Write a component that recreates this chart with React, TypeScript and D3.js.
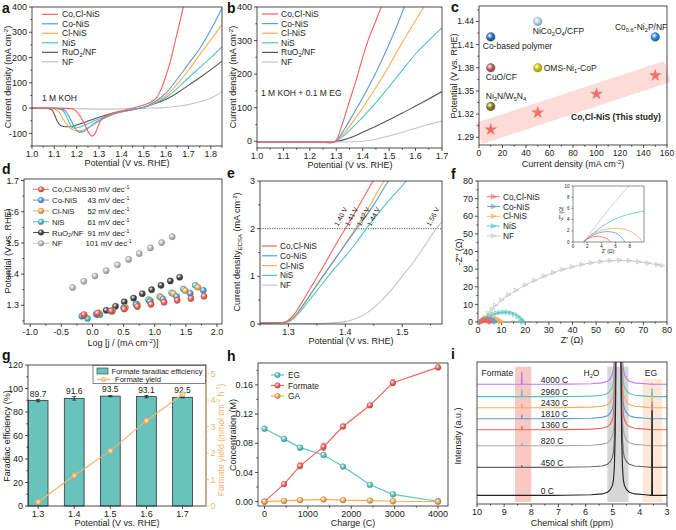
import React from 'react';
import * as d3 from 'd3';

type Pt = [number, number];
const FONT = "'Liberation Sans', Arial, Helvetica, sans-serif";
const RED = '#f4615a', BLUE = '#5b9bd5', ORANGE = '#f9ad55', TEAL = '#4fc4c2', DARK = '#555555', LIGHT = '#c4c4c4';

// ---------------- panel a (1 M KOH) ----------------
const aNames = ['Co,Cl-NiS', 'Co-NiS', 'Cl-NiS', 'NiS', 'RuO_{2}/NF', 'NF'];
const aCoClNiS: Pt[] = [[1.0,0],[1.1,0],[1.16,-1],[1.18,-4],[1.2,-14],[1.22,-38],[1.24,-72],[1.255,-98],[1.268,-111],[1.28,-104],[1.29,-85],[1.3,-62],[1.313,-41],[1.33,-30],[1.36,-20],[1.4,-11],[1.45,0],[1.5,12],[1.54,28],[1.56,45],[1.58,80],[1.6,130],[1.62,188],[1.64,262],[1.66,335],[1.677,400],[1.69,440]];
const aCoNiS: Pt[] = [[1.0,0],[1.1,-1],[1.13,-3],[1.15,-12],[1.17,-40],[1.19,-75],[1.21,-95],[1.23,-93],[1.25,-80],[1.28,-60],[1.32,-40],[1.36,-24],[1.4,-14],[1.45,-6],[1.5,3],[1.55,25],[1.6,60],[1.65,115],[1.7,175],[1.75,235],[1.8,310],[1.85,395]];
const aClNiS: Pt[] = [[1.0,0],[1.08,-1],[1.1,-4],[1.12,-15],[1.14,-45],[1.16,-70],[1.18,-85],[1.2,-90],[1.22,-89],[1.25,-78],[1.28,-62],[1.32,-42],[1.36,-26],[1.4,-15],[1.45,-6],[1.5,2],[1.55,22],[1.6,50],[1.65,95],[1.7,150],[1.75,210],[1.8,270],[1.85,330]];
const aNiS: Pt[] = [[1.0,0],[1.1,-1],[1.13,-5],[1.15,-25],[1.165,-55],[1.178,-76],[1.19,-80],[1.21,-76],[1.25,-62],[1.29,-46],[1.33,-32],[1.37,-21],[1.42,-10],[1.47,-3],[1.5,3],[1.55,20],[1.6,42],[1.65,78],[1.7,120],[1.75,160],[1.8,200],[1.85,242]];
const aRuO2: Pt[] = [[1.0,0],[1.07,-1],[1.09,-8],[1.1,-25],[1.115,-55],[1.13,-70],[1.15,-74],[1.17,-74],[1.2,-67],[1.24,-55],[1.28,-42],[1.32,-30],[1.36,-21],[1.4,-14],[1.45,-6],[1.5,3],[1.55,18],[1.6,35],[1.65,60],[1.7,90],[1.75,120],[1.8,152],[1.85,186]];
const aNF: Pt[] = [[1.0,-1],[1.2,-2],[1.3,-4],[1.4,-3],[1.5,-1],[1.55,0],[1.6,3],[1.65,7],[1.7,14],[1.75,25],[1.8,40],[1.85,64]];
const aXT = [1.0,1.1,1.2,1.3,1.4,1.5,1.6,1.7,1.8];
const aXM = [1.05,1.15,1.25,1.35,1.45,1.55,1.65,1.75,1.85];
const aYT = [-100,0,100,200,300,400];
const aYM = [-150,-50,50,150,250,350];

// ---------------- panel b (KOH + EG) ----------------
const bCoClNiS: Pt[] = [[1.0,-3],[1.25,-3],[1.28,-5],[1.29,-3],[1.3,2],[1.32,45],[1.35,120],[1.38,195],[1.4,250],[1.42,300],[1.45,360],[1.475,410]];
const bCoNiS: Pt[] = [[1.0,-3],[1.25,-3],[1.29,-2],[1.3,2],[1.33,35],[1.36,75],[1.4,130],[1.45,205],[1.5,290],[1.53,345],[1.56,405]];
const bClNiS: Pt[] = [[1.0,-3],[1.25,-3],[1.29,-2],[1.3,2],[1.33,25],[1.36,55],[1.4,100],[1.45,160],[1.5,225],[1.55,295],[1.6,360],[1.64,410]];
const bNiS: Pt[] = [[1.0,-3],[1.25,-3],[1.29,-2],[1.3,1],[1.33,18],[1.36,40],[1.4,72],[1.45,115],[1.5,163],[1.55,212],[1.6,260],[1.65,300],[1.7,338]];
const bRuO2: Pt[] = [[1.0,-2],[1.28,-2],[1.3,0],[1.33,5],[1.36,13],[1.4,27],[1.45,45],[1.5,64],[1.55,84],[1.6,105],[1.65,126],[1.7,148]];
const bNF: Pt[] = [[1.0,-2],[1.35,-2],[1.4,0],[1.43,3],[1.46,8],[1.5,16],[1.55,27],[1.6,39],[1.65,50],[1.7,60]];
const bXT = [1.0,1.1,1.2,1.3,1.4,1.5,1.6,1.7];
const bXM = [1.05,1.15,1.25,1.35,1.45,1.55,1.65];
const bYT = [0,100,200,300,400];
const bYM = [50,150,250,350];

// ---------------- panel c (comparison) ----------------
const cRefNames = ['Co-based polymer', 'NiCo_{2}O_{4}/CFP', 'Co_{0.6}-Ni_{2}P/NF', 'CuO/CF', 'OMS-Ni_{1}-CoP', 'Ni_{3}N/W_{5}N_{4}'];
const cRefJ = [10, 50, 150, 10, 50, 10];
const cRefV = [1.42, 1.44, 1.42, 1.38, 1.38, 1.33];
const cRefColors = ['#2a6db5', '#a9d6ea', '#1f86e0', '#b5585a', '#c9c200', '#7d7d1e'];
const cStarJ = [10, 50, 100, 150];
const cStarV = [1.30, 1.322, 1.346, 1.37];
const cXT = [0,20,40,60,80,100,120,140,160];
const cXM = [10,30,50,70,90,110,130,150];
const cYT = [1.29,1.32,1.35,1.38,1.41,1.44];
const cYM = [1.305,1.335,1.365,1.395,1.425,1.455];

// ---------------- panel d (Tafel) ----------------
const dNames = ['Co,Cl-NiS', 'Co-NiS', 'Cl-NiS', 'NiS', 'RuO_{2}/NF', 'NF'];
const dSlopes = ['30', '43', '52', '61', '91', '101'];
const dCoClNiS: Pt[] = [[-0.14,1.27],[0.08,1.275],[0.3,1.282],[0.51,1.288],[0.72,1.296],[0.94,1.303],[1.15,1.31],[1.36,1.316],[1.58,1.322],[1.79,1.329]];
const dCoNiS: Pt[] = [[-0.17,1.265],[0.06,1.272],[0.29,1.282],[0.5,1.292],[0.7,1.302],[0.92,1.312],[1.13,1.32],[1.35,1.328],[1.57,1.338],[1.78,1.348]];
const dClNiS: Pt[] = [[-0.13,1.268],[0.1,1.276],[0.32,1.283],[0.53,1.293],[0.72,1.303],[0.93,1.315],[1.1,1.325],[1.3,1.337],[1.49,1.347],[1.69,1.358]];
const dNiS: Pt[] = [[-0.08,1.258],[0.12,1.27],[0.32,1.281],[0.51,1.293],[0.7,1.305],[0.9,1.318],[1.08,1.328],[1.27,1.34],[1.46,1.352],[1.65,1.364]];
const dRuO2: Pt[] = [[0.07,1.271],[0.22,1.284],[0.37,1.297],[0.51,1.311],[0.66,1.323],[0.8,1.337],[0.95,1.35],[1.1,1.364],[1.25,1.378],[1.4,1.39]];
const dNF: Pt[] = [[-0.32,1.357],[-0.14,1.377],[0.04,1.394],[0.22,1.411],[0.4,1.43],[0.58,1.447],[0.75,1.466],[0.93,1.484],[1.11,1.501],[1.28,1.52]];
const dXT = [-1,-0.5,0,0.5,1,1.5,2];
const dXM = [-0.75,-0.25,0.25,0.75,1.25,1.75];
const dYT = [1.3,1.4,1.5,1.6,1.7];
const dYM = [1.25,1.35,1.45,1.55,1.65];

// ---------------- panel e (ECSA-normalised) ----------------
const eNames = ['Co,Cl-NiS', 'Co-NiS', 'Cl-NiS', 'NiS', 'NF'];
const eCoClNiS: Pt[] = [[1.25,0.02],[1.29,0.03],[1.3,0.08],[1.31,0.2],[1.32,0.38],[1.34,0.78],[1.36,1.18],[1.38,1.6],[1.4,2.0],[1.42,2.4],[1.449,3.0],[1.46,3.2]];
const eCoNiS: Pt[] = [[1.25,0.02],[1.29,0.03],[1.3,0.06],[1.31,0.15],[1.32,0.3],[1.34,0.65],[1.36,1.0],[1.38,1.33],[1.4,1.67],[1.42,2.0],[1.45,2.5],[1.476,3.0],[1.49,3.2]];
const eClNiS: Pt[] = [[1.25,0.02],[1.29,0.03],[1.3,0.05],[1.31,0.12],[1.32,0.28],[1.34,0.63],[1.36,0.98],[1.38,1.33],[1.4,1.68],[1.418,2.0],[1.44,2.42],[1.468,3.0],[1.48,3.2]];
const eNiS: Pt[] = [[1.25,0.02],[1.29,0.03],[1.3,0.05],[1.32,0.25],[1.34,0.55],[1.36,0.85],[1.38,1.15],[1.4,1.42],[1.42,1.72],[1.437,2.0],[1.47,2.5],[1.507,3.0],[1.52,3.2]];
const eNF: Pt[] = [[1.25,0.0],[1.35,0.01],[1.4,0.05],[1.42,0.12],[1.44,0.25],[1.46,0.45],[1.48,0.7],[1.5,1.0],[1.52,1.3],[1.54,1.65],[1.56,2.0],[1.57,2.15]];
const eOnsetV = [1.40, 1.41, 1.42, 1.44, 1.56];
const eOnsetLbl = ['1.40 V', '1.41 V', '1.42 V', '1.44 V', '1.56 V'];
const eXT = [1.3,1.4,1.5];
const eXM = [1.25,1.35,1.45,1.55];
const eYT = [0,1,2,3];
const eYM = [0.5,1.5,2.5];

// ---------------- panel f (Nyquist) ----------------
const fNames = ['Co,Cl-NiS', 'Co-NiS', 'Cl-NiS', 'NiS', 'NF'];
const fCoClNiS: Pt[] = [[1.5,0],[2,0.5],[2.5,0.8],[3,0.95],[3.5,1.0],[4,0.95],[4.5,0.75],[5,0.4],[5.3,0]];
const fCoNiS: Pt[] = [[1.5,0],[2.2,0.8],[3,1.35],[4,1.75],[5,1.85],[6,1.6],[6.7,1.0],[7.1,0.4],[7.3,0]];
const fClNiS: Pt[] = [[1.5,0],[2.3,1.0],[3.2,1.7],[4.3,2.2],[5.5,2.4],[6.5,2.4],[7.5,2.2],[8.5,1.6],[9.2,0.9],[9.6,0.3],[9.7,0]];
const fNiS: Pt[] = [[1.5,0],[2.5,1.2],[3.5,2.2],[5,3.5],[6.5,4.4],[8,5.0],[9.5,5.4],[11,5.6],[12.5,5.5],[14,5.1],[15.5,4.4],[17,3.2],[18.2,1.8],[18.8,0.8],[19,0]];
const fNF: Pt[] = [[1.5,0],[3,2.5],[4.5,5],[6,7.3],[7.5,9.5],[10,12.5],[13,15.5],[16.3,18],[20,21],[24,23.6],[28,26],[32,28],[36,29.8],[40,31.3],[44,32.6],[48,33.6],[52,34.3],[56,34.8],[60,35],[64,34.8],[68,34.2],[72,33.4],[76,32.5],[78,32]];
const fXT = [0,10,20,30,40,50,60,70,80];
const fXM = [5,15,25,35,45,55,65,75];
const fInsetT = [0,2,4,6,8];
const fInsetYT = [0,2,4,6,8,10];

// ---------------- panel g (FE + yield) ----------------
const gPot = [1.3, 1.4, 1.5, 1.6, 1.7];
const gFE = [89.7, 91.6, 93.5, 93.1, 92.5];
const gFEerr = [1.0, 1.5, 0.5, 1.0, 0.4];
const gYield = [0.15, 1.15, 2.08, 3.22, 4.22];
const gYieldErr = [0.08, 0.1, 0.05, 0.12, 0.07];
const gYT = [0,20,40,60,80,100,120];
const gYM = [10,30,50,70,90,110];
const gRT = [0,1,2,3,4,5];
const gRM = [0.5,1.5,2.5,3.5,4.5];

// ---------------- panel h (concentration vs charge) ----------------
const hCharge = [0, 450, 820, 1360, 1810, 2430, 2960, 4000];
const hEG = [0.1, 0.086, 0.074, 0.064, 0.048, 0.023, 0.010, 0.0005];
const hEGerr = [0.001, 0.001, 0.003, 0.002, 0.001, 0.001, 0.001, 0.001];
const hFormate = [0, 0.024, 0.049, 0.075, 0.103, 0.132, 0.163, 0.184];
const hFormateErr = [0.001, 0.002, 0.004, 0.005, 0.003, 0.002, 0.004, 0.003];
const hGA = [0, 0.001, 0.002, 0.003, 0.002, 0.0015, 0.0005, 0];
const hXT = [0,1000,2000,3000,4000];
const hXM = [500,1500,2500,3500];
const hYT = [0,0.04,0.08,0.12,0.16];
const hYM = [0.02,0.06,0.1,0.14,0.18];

// ---------------- panel i (NMR) ----------------
const iLabels = ['0 C', '450 C', '820 C', '1360 C', '1810 C', '2430 C', '2960 C', '4000 C'];
const iColors = ['#222222', '#666666', '#aaaaaa', RED, BLUE, ORANGE, '#5cc0bf', '#b77cf0'];
const iBase = [6.1, 25.8, 41, 52.3, 60, 67.8, 75.6, 84.3];
const iFormateH = [0, 1.5, 1.5, 2.5, 3, 3, 5, 9];
const iEGH = [60, 40, 28, 18, 12, 9, 6, 0.5];
const iWaterOff = [0, 0.06, 0.08, 0.09, 0.1, 0.12, 0.15, 0.18, 0.22, 0.3, 0.4, 0.6, 1, 2];
const iWaterH = [600, 250, 140, 100, 70, 40, 20, 11, 7, 4, 2.2, 1, 0.4, 0.1];
const iXT = [10,9,8,7,6,5,4,3];
const iXM = [9.5,8.5,7.5,6.5,5.5,4.5,3.5];

// ---------------- helpers ----------------
function Rich({ s, fs }: { s: string; fs: number }) {
  const out: any[] = [];
  let cur = 0, k = 0, last = 0;
  const re = /(\^|_)\{([^}]*)\}/g;
  let m: any;
  const push = (t: string, target: number, size: number) => {
    out.push(<tspan key={k++} dy={target - cur} fontSize={size}>{t}</tspan>);
    cur = target;
  };
  while ((m = re.exec(s))) {
    if (m.index > last) push(s.slice(last, m.index), 0, fs);
    push(m[2], m[1] === '^' ? -fs * 0.38 : fs * 0.22, fs * 0.68);
    last = re.lastIndex;
  }
  if (last < s.length) push(s.slice(last), 0, fs);
  return <>{out}</>;
}

function Axes(p: any) {
  const { sx, sy, xt, yt, xm = [], ym = [], xf, yf } = p;
  const fs = p.fs ?? 9, tl = p.tl ?? 3, sw = p.sw ?? 0.8;
  const [x0, x1] = sx.range(); const [y0, y1] = sy.range();
  const L = Math.min(x0, x1), R = Math.max(x0, x1), B = Math.max(y0, y1), T = Math.min(y0, y1);
  return (
    <g fontSize={fs} fill="#222">
      <rect x={L} y={T} width={R - L} height={B - T} fill="none" stroke="#222" strokeWidth={sw} />
      {xt.map((v: number, i: number) => (
        <g key={'x' + i}>
          <line x1={sx(v)} x2={sx(v)} y1={B} y2={B + tl} stroke="#222" strokeWidth={sw} />
          <text x={sx(v)} y={B + tl + fs * 0.9} textAnchor="middle">{xf(v)}</text>
        </g>
      ))}
      {xm.map((v: number, i: number) => <line key={'xm' + i} x1={sx(v)} x2={sx(v)} y1={B} y2={B + tl * 0.55} stroke="#222" strokeWidth={sw} />)}
      {!p.noY && yt.map((v: number, i: number) => (
        <g key={'y' + i}>
          <line x1={L} x2={L - tl} y1={sy(v)} y2={sy(v)} stroke="#222" strokeWidth={sw} />
          <text x={L - tl - 2} y={sy(v)} dy="0.35em" textAnchor="end">{yf(v)}</text>
        </g>
      ))}
      {!p.noY && ym.map((v: number, i: number) => <line key={'ym' + i} x1={L} x2={L - tl * 0.55} y1={sy(v)} y2={sy(v)} stroke="#222" strokeWidth={sw} />)}
    </g>
  );
}

const XTitle = ({ x, y, s, fs = 9 }: any) => <text x={x} y={y} textAnchor="middle" fontSize={fs} fill="#222"><Rich s={s} fs={fs} /></text>;
const YTitle = ({ x, y, s, fs = 9, fill = '#222' }: any) => (
  <text transform={`translate(${x},${y}) rotate(-90)`} textAnchor="middle" fontSize={fs} fill={fill}><Rich s={s} fs={fs} /></text>
);
const Letter = ({ x, y, s }: any) => <text x={x} y={y} fontSize={14} fontWeight="bold" fill="#111">{s}</text>;

const gradColors: Record<string, string> = {
  red: RED, blue: BLUE, orange: ORANGE, teal: TEAL, dark: '#444444', light: '#bdbdbd',
  c0: cRefColors[0], c1: cRefColors[1], c2: cRefColors[2], c3: cRefColors[3], c4: cRefColors[4], c5: cRefColors[5],
  hteal: '#5cc6c4',
};

const Sphere = ({ x, y, r, g }: any) => (
  <circle cx={x} cy={y} r={r} fill={`url(#g-${g})`} stroke={(d3.color(gradColors[g]) as any).darker(1).formatHex()} strokeWidth={0.4} />
);

const tri = 'M-2.2,-2.3L2.6,0L-2.2,2.3Z';

export default function App() {
  // ---- scales ----
  const aX = d3.scaleLinear().domain([1.0, 1.85]).range([32, 222]);
  const aY = d3.scaleLinear().domain([-150, 400]).range([146, 7]);
  const bX = d3.scaleLinear().domain([1.0, 1.7]).range([257, 442]);
  const bY = d3.scaleLinear().domain([-20, 400]).range([148, 7]);
  const cX = d3.scaleLinear().domain([0, 160]).range([479, 667]);
  const cY = d3.scaleLinear().domain([1.28, 1.46]).range([145, 6]);
  const dX = d3.scaleLinear().domain([-1.1, 2.08]).range([24, 222]);
  const dY = d3.scaleLinear().domain([1.24, 1.705]).range([324, 179]);
  const eX = d3.scaleLinear().domain([1.25, 1.57]).range([260, 442]);
  const eY = d3.scaleLinear().domain([0, 3]).range([324, 181]);
  const fX = d3.scaleLinear().domain([0, 80]).range([478, 667]);
  const fY = d3.scaleLinear().domain([0, 80]).range([322, 181]);
  const fiX = d3.scaleLinear().domain([0, 10]).range([573, 644]);
  const fiY = d3.scaleLinear().domain([0, 10]).range([242, 186]);
  const gX = d3.scaleLinear().domain([1.272, 1.765]).range([28, 206]);
  const gY = d3.scaleLinear().domain([0, 120]).range([506, 365]);
  const gR = d3.scaleLinear().domain([0, 5.32]).range([506, 365]);
  const hX = d3.scaleLinear().domain([-150, 4230]).range([258, 448]);
  const hY = d3.scaleLinear().domain([-0.006, 0.19]).range([506, 363]);
  const iX = d3.scaleLinear().domain([10, 3]).range([477, 667]);
  const iY = d3.scaleLinear().domain([0, 100]).range([504, 362]);

  const ln = (sx: any, sy: any, curve: any = d3.curveMonotoneX) =>
    d3.line<Pt>().x(d => sx(d[0])).y(d => sy(d[1])).curve(curve);

  const f1 = (v: number) => v.toFixed(1);
  const f0 = (v: number) => String(v);
  const f2 = (v: number) => v.toFixed(2);

  const aSeries = [aCoClNiS, aCoNiS, aClNiS, aNiS, aRuO2, aNF];
  const bSeries = [bCoClNiS, bCoNiS, bClNiS, bNiS, bRuO2, bNF];
  const six = [RED, BLUE, ORANGE, TEAL, DARK, LIGHT];
  const dSeries = [dCoClNiS, dCoNiS, dClNiS, dNiS, dRuO2, dNF];
  const dGrad = ['red', 'blue', 'orange', 'teal', 'dark', 'light'];
  const eSeries = [eCoClNiS, eCoNiS, eClNiS, eNiS, eNF];
  const five = [RED, BLUE, ORANGE, TEAL, LIGHT];
  const fSeries = [fCoClNiS, fCoNiS, fClNiS, fNiS, fNF];

  // panel c band along the stars
  const p0 = [cX(cStarJ[0]), cY(cStarV[0])];
  const p1 = [cX(cStarJ[cStarJ.length - 1]), cY(cStarV[cStarV.length - 1])];
  const ang = Math.atan2(p1[1] - p0[1], p1[0] - p0[0]);
  const len = Math.hypot(p1[0] - p0[0], p1[1] - p0[1]);
  const starPath = d3.symbol().type(d3.symbolStar).size(42)() as string;

  // NMR traces
  const nmr = iBase.map((b, t) => {
    const pts: Pt[] = [[10, b], [8.6, b], [8.365, b], [8.35, b + iFormateH[t]], [8.335, b], [7.2, b]];
    for (let j = iWaterOff.length - 1; j >= 0; j--) pts.push([4.79 + iWaterOff[j], b + iWaterH[j]]);
    for (let j = 1; j < iWaterOff.length; j++) if (iWaterOff[j] <= 1) pts.push([4.79 - iWaterOff[j], b + iWaterH[j]]);
    pts.push([3.6, b], [3.565, b], [3.55, b + iEGH[t]], [3.535, b], [3, b]);
    return pts;
  });

  const gBarW = gX(1.3 + 0.0274) - gX(1.3 - 0.0274);
  const gYieldPts: Pt[] = gPot.map((v, i) => [v, gYield[i]]);
  const hEGPts: Pt[] = hCharge.map((c, i) => [c, hEG[i]]);
  const hFPts: Pt[] = hCharge.map((c, i) => [c, hFormate[i]]);
  const hGAPts: Pt[] = hCharge.map((c, i) => [c, hGA[i]]);
  const eLblDx = [-7, -2, 4, 3, -6];

  return (
    <svg width={676} height={530} style={{ position: 'absolute', left: 0, top: 0, fontFamily: FONT }}>
      <defs>
        {Object.entries(gradColors).map(([k, c]) => (
          <radialGradient key={k} id={'g-' + k} cx="38%" cy="35%" r="70%">
            <stop offset="0%" stopColor="#ffffff" />
            <stop offset="50%" stopColor={c} />
            <stop offset="100%" stopColor={(d3.color(c) as any).darker(0.9).formatHex()} />
          </radialGradient>
        ))}
        <clipPath id="clipA"><rect x={32} y={7} width={190} height={139} /></clipPath>
        <clipPath id="clipB"><rect x={257} y={7} width={185} height={141} /></clipPath>
        <clipPath id="clipE"><rect x={260} y={181} width={182} height={143} /></clipPath>
        <clipPath id="clipFI"><rect x={573} y={186} width={71} height={56} /></clipPath>
        <clipPath id="clipI"><rect x={477} y={362} width={190} height={142} /></clipPath>
      </defs>
      <rect x={0} y={0} width={676} height={530} fill="#fff" />

      {/* ================= a ================= */}
      <g clipPath="url(#clipA)">
        {[5, 4, 3, 2, 1, 0].map(i => (
          <path key={i} d={ln(aX, aY)(aSeries[i]) as string} fill="none" stroke={six[i]} strokeWidth={1.1} />
        ))}
      </g>
      <Axes sx={aX} sy={aY} xt={aXT} xm={aXM} yt={aYT} ym={aYM} xf={f1} yf={f0} />
      {aNames.map((n, i) => (
        <g key={i}>
          <line x1={42} x2={58} y1={14.3 + i * 9.5} y2={14.3 + i * 9.5} stroke={six[i]} strokeWidth={1.2} />
          <text x={62} y={14.3 + i * 9.5 + 3} fontSize={8.5} fill="#222"><Rich s={n} fs={8.5} /></text>
        </g>
      ))}
      <text x={42} y={101} fontSize={8.5} fill="#222">1 M KOH</text>
      <XTitle x={127} y={166} s="Potential (V vs. RHE)" />
      <YTitle x={11} y={77} s="Current density (mA cm^{-2})" />
      <Letter x={2} y={13} s="a" />

      {/* ================= b ================= */}
      <g clipPath="url(#clipB)">
        {[5, 4, 3, 2, 1, 0].map(i => (
          <path key={i} d={ln(bX, bY)(bSeries[i]) as string} fill="none" stroke={six[i]} strokeWidth={1.1} />
        ))}
      </g>
      <Axes sx={bX} sy={bY} xt={bXT} xm={bXM} yt={bYT} ym={bYM} xf={f1} yf={f0} />
      {aNames.map((n, i) => (
        <g key={i}>
          <line x1={262} x2={278} y1={14 + i * 9.6} y2={14 + i * 9.6} stroke={six[i]} strokeWidth={1.2} />
          <text x={281} y={14 + i * 9.6 + 3} fontSize={8.5} fill="#222"><Rich s={n} fs={8.5} /></text>
        </g>
      ))}
      <text x={261} y={96} fontSize={8.5} fill="#222">1 M KOH + 0.1 M EG</text>
      <XTitle x={350} y={168} s="Potential (V vs. RHE)" />
      <YTitle x={236} y={77} s="Current density (mA cm^{-2})" />
      <Letter x={227} y={13} s="b" />

      {/* ================= c ================= */}
      <g transform={`translate(${p0[0]},${p0[1]}) rotate(${(ang * 180) / Math.PI})`}>
        <rect x={-13} y={-11} width={len + 26} height={22} rx={3} fill="#fcd6d0" opacity={0.85} />
      </g>
      <Axes sx={cX} sy={cY} xt={cXT} xm={cXM} yt={cYT} ym={cYM} xf={f0} yf={f2} fs={8.6} />
      {cRefJ.map((j, i) => <Sphere key={i} x={cX(j)} y={cY(cRefV[i])} r={4.3} g={'c' + i} />)}
      {cStarJ.map((j, i) => (
        <path key={i} d={starPath} transform={`translate(${cX(j)},${cY(cStarV[i])})`} fill="#f4706a" stroke="#e55a52" strokeWidth={0.3} />
      ))}
      <g fontSize={8.5} fill="#222">
        <text x={cX(cRefJ[0]) - 8} y={cY(cRefV[0]) + 12}><Rich s={cRefNames[0]} fs={8.5} /></text>
        <text x={cX(cRefJ[1]) - 5} y={cY(cRefV[1]) + 12.5}><Rich s={cRefNames[1]} fs={8.5} /></text>
        <text x={cX(cRefJ[2]) + 12} y={cY(cRefV[2]) - 7} textAnchor="end"><Rich s={cRefNames[2]} fs={8.5} /></text>
        <text x={cX(cRefJ[3]) - 5} y={cY(cRefV[3]) + 12}><Rich s={cRefNames[3]} fs={8.5} /></text>
        <text x={cX(cRefJ[4]) + 6} y={cY(cRefV[4]) + 3}><Rich s={cRefNames[4]} fs={8.5} /></text>
        <text x={cX(cRefJ[5]) - 5} y={cY(cRefV[5]) - 7}><Rich s={cRefNames[5]} fs={8.5} /></text>
        <text x={571} y={120} fontWeight="bold">Co,Cl-NiS (This study)</text>
      </g>
      <XTitle x={573} y={167} s="Current density (mA cm^{-2})" />
      <YTitle x={457} y={76} s="Potential (V vs. RHE)" />
      <Letter x={451} y={12} s="c" />

      {/* ================= d ================= */}
      <Axes sx={dX} sy={dY} xt={dXT} xm={dXM} yt={dYT} ym={dYM} xf={f1} yf={f1} />
      {[5, 4, 3, 2, 1, 0].map(i => (
        <g key={i}>{dSeries[i].map((p, k) => <Sphere key={k} x={dX(p[0])} y={dY(p[1])} r={3.1} g={dGrad[i]} />)}</g>
      ))}
      {dNames.map((n, i) => {
        const yy = 189.3 + i * 10.8;
        return (
          <g key={i}>
            <line x1={33} x2={49} y1={yy} y2={yy} stroke={six[i]} strokeWidth={1} />
            <Sphere x={41} y={yy} r={2.8} g={dGrad[i]} />
            <text x={52} y={yy + 3} fontSize={7.8} fill="#222"><Rich s={n} fs={7.8} /></text>
            <text x={i === 5 ? 85.5 : 87.5} y={yy + 3} fontSize={7.8} fill="#222"><Rich s={dSlopes[i] + ' mV dec^{-1}'} fs={7.8} /></text>
          </g>
        );
      })}
      <XTitle x={123} y={346} s="Log [j / (mA cm^{-2})]" />
      <YTitle x={11} y={251} s="Potential (V vs. RHE)" />
      <Letter x={2} y={174} s="d" />

      {/* ================= e ================= */}
      <line x1={260} x2={442} y1={eY(2)} y2={eY(2)} stroke="#444" strokeWidth={0.9} strokeDasharray="1.2,1.2" />
      <g clipPath="url(#clipE)">
        {[4, 3, 2, 1, 0].map(i => (
          <path key={i} d={ln(eX, eY)(eSeries[i]) as string} fill="none" stroke={five[i]} strokeWidth={1.1} />
        ))}
      </g>
      <Axes sx={eX} sy={eY} xt={eXT} xm={eXM} yt={eYT} ym={eYM} xf={f1} yf={f0} />
      {eOnsetV.map((v, i) => (
        <text key={i} transform={`translate(${eX(v) + eLblDx[i]},${eY(2) - 2}) rotate(-62)`} fontSize={7} fill="#222">{eOnsetLbl[i]}</text>
      ))}
      {eNames.map((n, i) => (
        <g key={i}>
          <line x1={262} x2={277} y1={246 + i * 9.8} y2={246 + i * 9.8} stroke={five[i]} strokeWidth={1.2} />
          <text x={280} y={246 + i * 9.8 + 3} fontSize={8.3} fill="#222">{n}</text>
        </g>
      ))}
      <XTitle x={351} y={344} s="Potential (V vs. RHE)" />
      <YTitle x={240} y={252} s="Current density_{ECSA} (mA cm^{-2})" />
      <Letter x={227} y={178} s="e" />

      {/* ================= f ================= */}
      <Axes sx={fX} sy={fY} xt={fXT} xm={fXM} yt={fXT} ym={fXM} xf={f0} yf={f0} />
      {[4, 3, 2, 1, 0].map(i => (
        <g key={i}>
          <path d={ln(fX, fY, d3.curveCatmullRom)(fSeries[i]) as string} fill="none" stroke={five[i]} strokeWidth={0.9} />
          {fSeries[i].map((p, k) => (
            <path key={k} d={tri} transform={`translate(${fX(p[0])},${fY(p[1])})`} fill={five[i]} fillOpacity={0.35} stroke={five[i]} strokeWidth={0.6} />
          ))}
        </g>
      ))}
      {fNames.map((n, i) => {
        const yy = 196.7 + i * 9.8;
        return (
          <g key={i}>
            <line x1={487} x2={500} y1={yy} y2={yy} stroke={five[i]} strokeWidth={0.9} />
            <path d={tri} transform={`translate(${493.5},${yy})`} fill={five[i]} fillOpacity={0.35} stroke={five[i]} strokeWidth={0.6} />
            <text x={503} y={yy + 3} fontSize={8.3} fill="#222">{n}</text>
          </g>
        );
      })}
      {/* inset */}
      <rect x={573} y={186} width={71} height={56} fill="#fff" />
      <g clipPath="url(#clipFI)">
        {[4, 3, 2, 1, 0].map(i => (
          <path key={i} d={ln(fiX, fiY, d3.curveCatmullRom)(fSeries[i]) as string} fill="none" stroke={five[i]} strokeWidth={0.8} />
        ))}
      </g>
      <Axes sx={fiX} sy={fiY} xt={fInsetT} yt={fInsetYT} xf={f0} yf={f0} fs={4.5} tl={1.5} sw={0.5} />
      <text x={608} y={253} fontSize={5} textAnchor="middle" fill="#222">Z' (Ω)</text>
      <text transform="translate(563,214) rotate(-90)" fontSize={5} textAnchor="middle" fill="#222">-Z'' (Ω)</text>
      <XTitle x={572} y={343} s="Z' (Ω)" />
      <YTitle x={462} y={252} s="-Z'' (Ω)" />
      <Letter x={451} y={179} s="f" />

      {/* ================= g ================= */}
      {gPot.map((v, i) => (
        <g key={i}>
          <rect x={gX(v) - gBarW / 2} y={gY(gFE[i])} width={gBarW} height={gY(0) - gY(gFE[i])} fill="#68c3bd" stroke="#333" strokeWidth={0.8} />
          <line x1={gX(v)} x2={gX(v)} y1={gY(gFE[i] + gFEerr[i])} y2={gY(gFE[i] - gFEerr[i])} stroke="#222" strokeWidth={0.8} />
          <line x1={gX(v) - 2} x2={gX(v) + 2} y1={gY(gFE[i] + gFEerr[i])} y2={gY(gFE[i] + gFEerr[i])} stroke="#222" strokeWidth={0.8} />
          <line x1={gX(v) - 2} x2={gX(v) + 2} y1={gY(gFE[i] - gFEerr[i])} y2={gY(gFE[i] - gFEerr[i])} stroke="#222" strokeWidth={0.8} />
          <text x={gX(v)} y={gY(gFE[i]) - 4} textAnchor="middle" fontSize={8.5} fill="#222">{gFE[i].toFixed(1)}</text>
        </g>
      ))}
      <path d={d3.line<Pt>().x(d => gX(d[0])).y(d => gR(d[1]))(gYieldPts) as string} fill="none" stroke="#f7b36a" strokeWidth={1.2} />
      {gYieldPts.map((p, i) => (
        <g key={i}>
          <line x1={gX(p[0])} x2={gX(p[0])} y1={gR(p[1] + gYieldErr[i])} y2={gR(p[1] - gYieldErr[i])} stroke="#f0a050" strokeWidth={0.8} />
          <line x1={gX(p[0]) - 2} x2={gX(p[0]) + 2} y1={gR(p[1] + gYieldErr[i])} y2={gR(p[1] + gYieldErr[i])} stroke="#f0a050" strokeWidth={0.8} />
          <line x1={gX(p[0]) - 2} x2={gX(p[0]) + 2} y1={gR(p[1] - gYieldErr[i])} y2={gR(p[1] - gYieldErr[i])} stroke="#f0a050" strokeWidth={0.8} />
          <circle cx={gX(p[0])} cy={gR(p[1])} r={2.4} fill="#fbd3a4" stroke="#f0a050" strokeWidth={0.7} />
        </g>
      ))}
      <Axes sx={gX} sy={gY} xt={gPot} yt={gYT} ym={gYM} xf={f1} yf={f0} />
      {/* right axis */}
      <g fontSize={9} fill="#f5b46e">
        <line x1={206} x2={206} y1={365} y2={506} stroke="#f5b46e" strokeWidth={0.9} />
        {gRT.map((v, i) => (
          <g key={i}>
            <line x1={206} x2={209} y1={gR(v)} y2={gR(v)} stroke="#f5b46e" strokeWidth={0.8} />
            <text x={210.5} y={gR(v)} dy="0.35em">{v}</text>
          </g>
        ))}
        {gRM.map((v, i) => <line key={i} x1={206} x2={207.7} y1={gR(v)} y2={gR(v)} stroke="#f5b46e" strokeWidth={0.8} />)}
      </g>
      <YTitle x={223.5} y={440} s="Formate yield (mmol cm^{-2} h^{-1})" fill="#f5b46e" fs={8.6} />
      <rect x={93} y={365.5} width={112.5} height={18} fill="#fff" stroke="#333" strokeWidth={0.6} />
      <rect x={97} y={368} width={11} height={6} fill="#68c3bd" stroke="#333" strokeWidth={0.6} />
      <text x={111.5} y={374} fontSize={7.6} fill="#222">Formate faradiac efficiency</text>
      <line x1={97} x2={110} y1={379.5} y2={379.5} stroke="#f7b36a" strokeWidth={1.2} />
      <circle cx={103.5} cy={379.5} r={2.2} fill="#fbd3a4" stroke="#f0a050" strokeWidth={0.7} />
      <text x={115} y={382.3} fontSize={7.6} fill="#222">Formate yield</text>
      <XTitle x={117} y={526} s="Potential (V vs. RHE)" />
      <YTitle x={10} y={436} s="Faradiac efficiency (%)" />
      <Letter x={2} y={360} s="g" />

      {/* ================= h ================= */}
      {[
        { pts: hEGPts, err: hEGerr, c: '#5cc6c4', g: 'hteal' },
        { pts: hFPts, err: hFormateErr, c: RED, g: 'red' },
        { pts: hGAPts, err: null as any, c: ORANGE, g: 'orange' },
      ].map((s, si) => (
        <g key={si}>
          <path d={d3.line<Pt>().x(d => hX(d[0])).y(d => hY(d[1]))(s.pts) as string} fill="none" stroke={s.c} strokeWidth={1.2} />
          {s.err && s.pts.map((p, k) => (
            <g key={k} stroke={s.c} strokeWidth={0.8}>
              <line x1={hX(p[0])} x2={hX(p[0])} y1={hY(p[1] + s.err[k])} y2={hY(p[1] - s.err[k])} />
              <line x1={hX(p[0]) - 2} x2={hX(p[0]) + 2} y1={hY(p[1] + s.err[k])} y2={hY(p[1] + s.err[k])} />
              <line x1={hX(p[0]) - 2} x2={hX(p[0]) + 2} y1={hY(p[1] - s.err[k])} y2={hY(p[1] - s.err[k])} />
            </g>
          ))}
          {s.pts.map((p, k) => <Sphere key={k} x={hX(p[0])} y={hY(p[1])} r={2.9} g={s.g} />)}
        </g>
      ))}
      <Axes sx={hX} sy={hY} xt={hXT} xm={hXM} yt={hYT} ym={hYM} xf={f0} yf={f2} />
      {['EG', 'Formate', 'GA'].map((n, i) => {
        const yy = 375 + i * 10.5;
        const c = ['#5cc6c4', RED, ORANGE][i];
        return (
          <g key={i}>
            <line x1={271} x2={284} y1={yy} y2={yy} stroke={c} strokeWidth={1.2} />
            <Sphere x={277.5} y={yy} r={2.7} g={['hteal', 'red', 'orange'][i]} />
            <text x={288} y={yy + 3} fontSize={8.3} fill="#222">{n}</text>
          </g>
        );
      })}
      <XTitle x={353} y={526} s="Charge (C)" />
      <YTitle x={236} y={435} s="Concentration (M)" />
      <Letter x={227} y={361} s="h" />

      {/* ================= i ================= */}
      <rect x={iX(8.6)} y={366.7} width={iX(8.0) - iX(8.6)} height={135.3} fill="#f7b5ae" opacity={0.75} />
      <rect x={iX(5.2)} y={366.7} width={iX(4.42) - iX(5.2)} height={135.3} fill="#d6d6d6" />
      <rect x={iX(3.9)} y={379} width={iX(3.18) - iX(3.9)} height={123} fill="#fde8d8" />
      <g clipPath="url(#clipI)">
        {[7, 6, 5, 4, 3, 2, 1, 0].map(t => (
          <path key={t} d={d3.line<Pt>().x(d => iX(d[0])).y(d => iY(d[1]))(nmr[t]) as string} fill="none" stroke={iColors[t]} strokeWidth={1.1} />
        ))}
      </g>
      <Axes sx={iX} sy={iY} xt={iXT} xm={iXM} yt={[]} xf={f0} yf={f0} noY />
      {iLabels.map((l, t) => (
        <text key={t} x={iX(7.65)} y={iY(iBase[t]) - 1.5} fontSize={8.5} fill="#222">{l}</text>
      ))}
      <text x={481.5} y={376} fontSize={8.5} fill="#222">Formate</text>
      <text x={591.5} y={376} fontSize={8.5} textAnchor="middle" fill="#222"><Rich s="H_{2}O" fs={8.5} /></text>
      <text x={651} y={376} fontSize={8.5} textAnchor="middle" fill="#222">EG</text>
      <XTitle x={572} y={526} s="Chemical shift (ppm)" />
      <YTitle x={461} y={436} s="Intensity (a.u.)" />
      <Letter x={451} y={359} s="i" />
    </svg>
  );
}
